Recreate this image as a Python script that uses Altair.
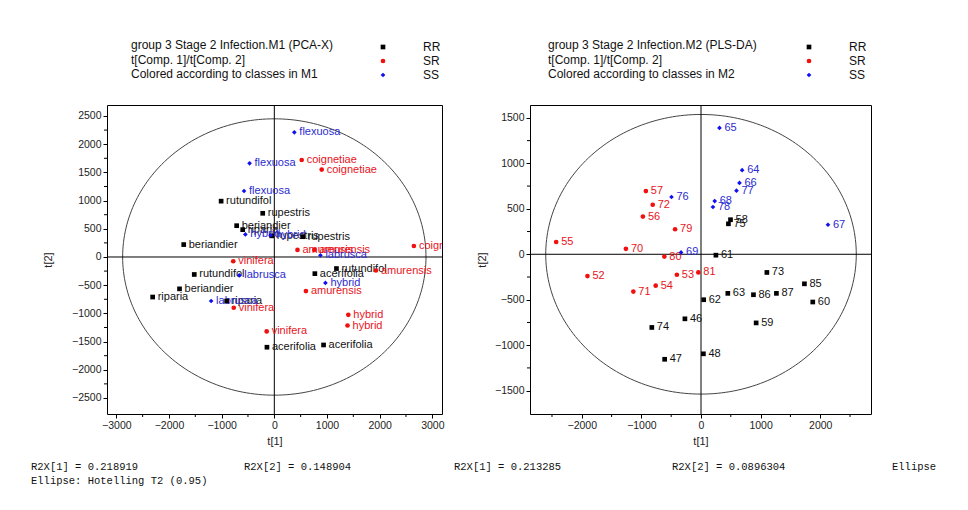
import altair as alt
import numpy as np
import pandas as pd

classes = ["RR", "SR", "SS"]
marker_colors = ["#000000", "#f01010", "#1010f0"]
text_colors = ["#111111", "#e8141c", "#2b2bd0"]
shapes = ["square", "circle", "diamond"]

# ---- M1 (PCA-X) scores ----
m1_labels = ["rutundifol", "rupestris", "beriandier", "riparia", "rupestris", "rupestris",
             "beriandier", "rutundifol", "rutundifol", "acerifolia", "beriandier", "riparia",
             "riparia", "acerifolia", "acerifolia",
             "coignetiae", "coignetiae", "coignetiae", "amurensis", "amurensis", "vinifera",
             "amurensis", "amurensis", "vinifera", "hybrid", "hybrid", "vinifera",
             "flexuosa", "flexuosa", "flexuosa", "hybrid", "hybrid", "labrusca", "labrusca",
             "hybrid", "labrusca"]
m1_x = [-1010, -220, -715, -600, -50, 540, -1720, 1180, -1520, 770, -1800, -2310, -905, -140, 935,
        520, 900, 2650, 440, 760, -780, 1930, 600, -770, 1405, 1390, -145,
        380, -470, -575, -550, -70, 875, -665, 970, -1200]
m1_y = [990, 775, 555, 485, 375, 360, 220, -205, -310, -295, -565, -710, -780, -1600, -1560,
        1720, 1550, 195, 125, 125, -75, -240, -605, -900, -1025, -1215, -1320,
        2210, 1660, 1170, 400, 385, 30, -325, -460, -780]
m1_class = ["RR"] * 15 + ["SR"] * 12 + ["SS"] * 9

# ---- M2 (PLS-DA) scores ----
m2_labels = ["58", "75", "61", "73", "85", "63", "86", "87", "60", "62", "46", "59", "74", "48", "47",
             "57", "72", "56", "79", "55", "70", "80", "52", "53", "81", "71", "54",
             "65", "64", "66", "77", "76", "68", "78", "67", "69"]
m2_x = [495, 460, 250, 1105, 1735, 450, 880, 1265, 1875, 45, -270, 925, -825, 40, -610,
        -925, -810, -975, -435, -2430, -1260, -615, -1905, -405, -45, -1135, -760,
        310, 690, 645, 595, -495, 230, 200, 2130, -335]
m2_y = [380, 335, -10, -200, -325, -430, -445, -430, -525, -500, -710, -755, -805, -1095, -1155,
        695, 545, 415, 275, 135, 60, -25, -240, -225, -200, -410, -345,
        1390, 925, 785, 700, 630, 585, 520, 325, 20]
m2_class = ["RR"] * 15 + ["SR"] * 12 + ["SS"] * 9

m1_legend = "group 3 Stage 2 Infection.M1 (PCA-X)\nt[Comp. 1]/t[Comp. 2]\nColored according to classes in M1"
m2_legend = "group 3 Stage 2 Infection.M2 (PLS-DA)\nt[Comp. 1]/t[Comp. 2]\nColored according to classes in M2"

m1_ellipse = (2880, 2450)
m2_ellipse = (2605, 1538)

FONT = "Liberation Sans"
MONO = "Liberation Mono"


def panel(labels, xs, ys, cls, xdom, ydom, w, h, xvals, yvals, xminor, yminor, ell,
          legend_text, desc_x, leg_x, foot, ytitle_pad):
    df = pd.DataFrame({"x": xs, "y": ys, "cls": cls, "lbl": labels})
    df["tcol"] = df["cls"].map(dict(zip(classes, text_colors)))
    xsc = alt.Scale(domain=xdom, nice=False, zero=False)
    ysc = alt.Scale(domain=ydom, nice=False, zero=False)
    xax = alt.Axis(values=xvals, title="t[1]", format="d")
    yax = alt.Axis(values=yvals, title="t[2]", format="d", titlePadding=ytitle_pad)

    def X(f):
        return alt.X(f, scale=xsc, axis=xax)

    def Y(f):
        return alt.Y(f, scale=ysc, axis=yax)

    t = np.linspace(0, 2 * np.pi, 241)
    edf = pd.DataFrame({"x": ell[0] * np.cos(t), "y": ell[1] * np.sin(t), "o": np.arange(len(t))})
    ellipse = alt.Chart(edf).mark_line(color="#444444", strokeWidth=1, clip=True).encode(
        x=X("x:Q"), y=Y("y:Q"), order="o:Q")

    zero = pd.DataFrame({"x": [0], "y": [0]})
    vrule = alt.Chart(zero).mark_rule(color="black", strokeWidth=1).encode(x=X("x:Q"))
    hrule = alt.Chart(zero).mark_rule(color="black", strokeWidth=1).encode(y=Y("y:Q"))

    lab = alt.Chart(df).mark_text(align="left", baseline="middle", dx=5, fontSize=11,
                                  font=FONT, clip=True).encode(
        x=X("x:Q"), y=Y("y:Q"), text="lbl:N", color=alt.Color("tcol:N", scale=None))

    leg = alt.Legend(orient="none", legendX=leg_x, legendY=-64, title=None,
                     labelFontSize=12, labelFont=FONT, labelColor="#111", labelOffset=34,
                     symbolSize=22, symbolStrokeWidth=0, rowPadding=2, padding=0)
    pts = alt.Chart(df).mark_point(filled=True, opacity=1).encode(
        x=X("x:Q"), y=Y("y:Q"),
        color=alt.Color("cls:N", scale=alt.Scale(domain=classes, range=marker_colors), legend=leg),
        shape=alt.Shape("cls:N", scale=alt.Scale(domain=classes, range=shapes), legend=leg),
        size=alt.Size("cls:N", scale=alt.Scale(domain=classes, range=[22, 22, 32]), legend=None))

    ymin = alt.Chart(pd.DataFrame({"y": yminor})).mark_rule(color="black").encode(
        y=Y("y:Q"), x=alt.value(-3), x2=alt.value(0))
    xmin = alt.Chart(pd.DataFrame({"x": xminor})).mark_rule(color="black").encode(
        x=X("x:Q"), y=alt.value(h), y2=alt.value(h + 3))

    desc = alt.Chart(pd.DataFrame({"t": [legend_text]})).mark_text(
        align="left", baseline="top", fontSize=12, font=FONT, color="#111",
        lineBreak="\n", lineHeight=14.5).encode(
        x=alt.value(desc_x), y=alt.value(-65), text="t:N")

    fdf = pd.DataFrame(foot, columns=["t", "px", "py"])
    footer = alt.Chart(fdf).mark_text(align="left", baseline="middle", fontSize=10.5,
                                      font=MONO, color="#111").encode(
        x=alt.X("px:Q", scale=None, axis=None), y=alt.Y("py:Q", scale=None, axis=None), text="t:N")

    return alt.layer(ellipse, vrule, hrule, lab, pts, ymin, xmin, desc, footer).properties(
        width=w, height=h)


p1 = panel(m1_labels, m1_x, m1_y, m1_class, [-3177, 3184], [-2784, 2695], 335, 309,
           [-3000, -2000, -1000, 0, 1000, 2000, 3000],
           [-2500, -2000, -1500, -1000, -500, 0, 500, 1000, 1500, 2000, 2500],
           [-2500, -1500, -500, 500, 1500, 2500],
           [-2250, -1750, -1250, -750, -250, 250, 750, 1250, 1750, 2250],
           m1_ellipse, m1_legend, 24, 270,
           [["R2X[1] = 0.218919", -76, 362], ["R2X[2] = 0.148904", 137, 362],
            ["Ellipse: Hotelling T2 (0.95)", -76, 376]], 18)

p2 = panel(m2_labels, m2_x, m2_y, m2_class, [-2869, 2852], [-1757, 1642], 341, 309,
           [-2000, -1000, 0, 1000, 2000],
           [-1500, -1000, -500, 0, 500, 1000, 1500],
           [-2500, -1500, -500, 500, 1500, 2500],
           [-1250, -750, -250, 250, 750, 1250],
           m2_ellipse, m2_legend, 18, 273,
           [["R2X[1] = 0.213285", -76, 362], ["R2X[2] = 0.0896304", 142, 362],
            ["Ellipse", 362, 362]], 7)

chart = alt.hconcat(p1, p2, spacing=8).resolve_scale(
    color="independent", shape="independent", size="independent"
).resolve_legend(color="independent", shape="independent").properties(
    padding={"left": 22, "top": 30, "right": 0, "bottom": 0}
).configure_view(stroke="black", strokeWidth=1).configure_axis(
    domain=False, grid=False, tickColor="black", tickSize=4, labelFont=FONT, labelFontSize=10.5,
    labelColor="#222", labelPadding=2, titleFont=FONT, titleFontSize=11, titleFontWeight="normal",
    titleColor="#222"
).configure_axisX(titlePadding=5)

chart.save("out.html", embed_options={"renderer": "svg", "actions": False})
